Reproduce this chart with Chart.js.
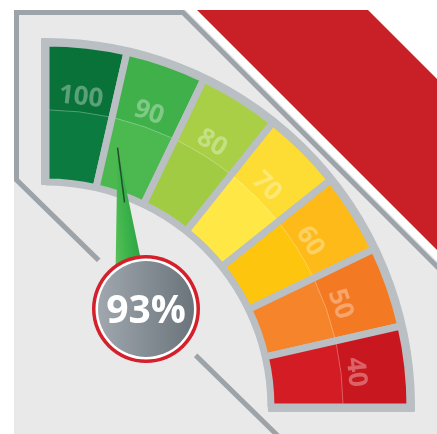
<!DOCTYPE html>
<html>
<head>
<meta charset="utf-8">
<script src="https://cdn.jsdelivr.net/npm/chart.js@4.4.0/dist/chart.umd.min.js"></script>
<style>
  html, body { margin: 0; padding: 0; background: #fff; }
  #gauge { display: block; }
</style>
</head>
<body>
<canvas id="gauge" width="437" height="434"></canvas>
<script>
// gauge bands, from the top of the arc round to the right
const labels = ['100', '90', '80', '70', '60', '50', '40'];
const shares = [1, 1, 1, 1, 1, 1, 1];
const outerColors = ['#097238', '#40b04a', '#a9cf46', '#fddd33', '#fdba18', '#f37a22', '#c9171f'];
const innerColors = ['#0b7b3f', '#4cb850', '#a2cb44', '#ffe846', '#fec50e', '#f5842a', '#d31c24'];
const score = 93;

const GRAY = '#b9bfc3';
const PANEL = '#e9e9ea';
const SPLIT = 0.816;    // where the two tones meet (share of outer radius)
const LABEL_R = 0.862;  // label radius
const TIP_R = 0.739;    // needle tip radius

function gaugeGeom(chart) {
  const c = chart.getDatasetMeta(0).controller;
  const a = chart.chartArea;
  if (!a) return null;
  const g = {
    x: (a.left + a.right) / 2 + c.offsetX,
    y: (a.top + a.bottom) / 2 + c.offsetY,
    outer: c.outerRadius,
    inner: c.innerRadius
  };
  if (!isFinite(g.x) || !isFinite(g.y) || !(g.outer > 0)) return null;
  return g;
}

function badgeCenter(g) {
  return { x: g.x + 100, y: g.y - 98 };
}

function twoTone(ctx) {
  const i = ctx.dataIndex;
  if (i === undefined) return innerColors[0];
  const g = gaugeGeom(ctx.chart);
  if (!g) return innerColors[i];
  const grad = ctx.chart.ctx.createRadialGradient(g.x, g.y, 0, g.x, g.y, g.outer);
  grad.addColorStop(0, innerColors[i]);
  grad.addColorStop(SPLIT, innerColors[i]);
  grad.addColorStop(SPLIT, outerColors[i]);
  grad.addColorStop(1, outerColors[i]);
  return grad;
}

function scoreAngle(chart) {
  const arcs = chart.getDatasetMeta(0).data;
  const vals = labels.map(Number);
  const mid = (el) => (el.startAngle + el.endAngle) / 2;
  for (let i = 0; i < vals.length - 1; i++) {
    if (score <= vals[i] && score >= vals[i + 1]) {
      const t = (vals[i] - score) / (vals[i] - vals[i + 1]);
      return mid(arcs[i]) + t * (mid(arcs[i + 1]) - mid(arcs[i]));
    }
  }
  return mid(arcs[0]);
}

// white page, light panel, red band, frame lines
const backdrop = {
  id: 'backdrop',
  beforeDraw(chart) {
    const ctx = chart.ctx;
    const w = chart.width, h = chart.height;
    ctx.save();
    ctx.fillStyle = '#ffffff';
    ctx.fillRect(0, 0, w, h);

    ctx.fillStyle = PANEL;
    ctx.beginPath();
    ctx.moveTo(14, 10);
    ctx.lineTo(186, 10);
    ctx.lineTo(w, 10 + (w - 186));
    ctx.lineTo(w, h);
    ctx.lineTo(14, h);
    ctx.closePath();
    ctx.fill();

    ctx.fillStyle = '#c91f26';
    ctx.beginPath();
    ctx.moveTo(197, 10);
    ctx.lineTo(368, 10);
    ctx.lineTo(w, 10 + (w - 368));
    ctx.lineTo(w, 10 + (w - 197));
    ctx.closePath();
    ctx.fill();

    ctx.strokeStyle = '#9ca3a9';
    ctx.lineWidth = 5;
    ctx.lineJoin = 'miter';
    ctx.beginPath();
    ctx.moveTo(290, 200 + 0.979 * (290 - 37));
    ctx.lineTo(16.5, 179.9);
    ctx.lineTo(16.5, 12.5);
    ctx.lineTo(183, 12.5);
    ctx.lineTo(w + 10, 12.5 + (w + 10 - 183));
    ctx.stroke();

    const g = gaugeGeom(chart);
    if (g) {
      const b = badgeCenter(g);
      ctx.fillStyle = PANEL;
      ctx.beginPath();
      ctx.arc(b.x, b.y, 68, 0, Math.PI * 2);
      ctx.fill();
    }
    ctx.restore();
  }
};

// gray tray behind the bands
const tray = {
  id: 'tray',
  beforeDatasetsDraw(chart) {
    const g = gaugeGeom(chart);
    if (!g) return;
    const ctx = chart.ctx;
    const off = 4;
    const ro = g.outer + off, ri = g.inner - 2;
    ctx.save();
    ctx.fillStyle = GRAY;
    ctx.beginPath();
    ctx.arc(g.x, g.y, ro, -Math.PI / 2 - Math.asin(off / ro), Math.asin(off / ro));
    ctx.arc(g.x, g.y, ri, Math.asin(off / ri), -Math.PI / 2 - Math.asin(off / ri), true);
    ctx.closePath();
    ctx.fill();
    ctx.strokeStyle = GRAY;
    ctx.lineWidth = 2;
    ctx.lineJoin = 'round';
    ctx.stroke();
    ctx.restore();
  }
};

// seam lines, band labels, needle and score badge
const marks = {
  id: 'marks',
  afterDatasetsDraw(chart) {
    const g = gaugeGeom(chart);
    if (!g) return;
    const ctx = chart.ctx;
    const arcs = chart.getDatasetMeta(0).data;
    ctx.save();

    const rs = g.outer * SPLIT;
    const pad = 3.5 / rs;
    ctx.strokeStyle = 'rgba(255,255,255,0.28)';
    ctx.lineWidth = 1;
    arcs.forEach((el) => {
      ctx.beginPath();
      ctx.arc(g.x, g.y, rs, el.startAngle + pad, el.endAngle - pad);
      ctx.stroke();
    });

    ctx.font = 'bold 26px "Open Sans"';
    ctx.fillStyle = 'rgba(255,255,255,0.33)';
    ctx.textAlign = 'center';
    ctx.textBaseline = 'alphabetic';
    arcs.forEach((el, i) => {
      const m = (el.startAngle + el.endAngle) / 2;
      const r = g.outer * LABEL_R;
      ctx.save();
      ctx.translate(g.x + Math.cos(m) * r, g.y + Math.sin(m) * r);
      ctx.rotate(m + Math.PI / 2);
      ctx.fillText(labels[i], 0, 9.5);
      ctx.restore();
    });

    // needle
    const b = badgeCenter(g);
    const a = scoreAngle(chart);
    const tip = { x: g.x + Math.cos(a) * g.outer * TIP_R, y: g.y + Math.sin(a) * g.outer * TIP_R };
    const base = { x: b.x - 14, y: b.y - 9 };
    const dx = tip.x - base.x, dy = tip.y - base.y;
    const len = Math.hypot(dx, dy);
    const nx = -dy / len, ny = dx / len;
    const hw = 17;
    const L = { x: base.x + nx * hw, y: base.y + ny * hw };
    const R = { x: base.x - nx * hw, y: base.y - ny * hw };
    const ng = ctx.createLinearGradient(L.x, L.y, R.x, R.y);
    ng.addColorStop(0, '#2a9f46');
    ng.addColorStop(0.5, '#3db44b');
    ng.addColorStop(1, '#62c45b');
    ctx.fillStyle = ng;
    ctx.beginPath();
    ctx.moveTo(tip.x, tip.y);
    ctx.lineTo(L.x, L.y);
    ctx.lineTo(R.x, R.y);
    ctx.closePath();
    ctx.fill();
    ctx.strokeStyle = 'rgba(25,55,35,0.8)';
    ctx.lineWidth = 1.5;
    ctx.beginPath();
    ctx.moveTo(tip.x, tip.y);
    ctx.lineTo(tip.x + (base.x + nx * 5 - tip.x) * 0.36, tip.y + (base.y + ny * 5 - tip.y) * 0.36);
    ctx.stroke();

    // badge
    ctx.fillStyle = '#d3202a';
    ctx.beginPath();
    ctx.arc(b.x, b.y, 54, 0, Math.PI * 2);
    ctx.fill();
    ctx.fillStyle = '#ffffff';
    ctx.beginPath();
    ctx.arc(b.x, b.y, 50.5, 0, Math.PI * 2);
    ctx.fill();
    const bg = ctx.createLinearGradient(b.x - 48, b.y, b.x + 48, b.y);
    bg.addColorStop(0, '#a0a7ae');
    bg.addColorStop(1, '#6b747b');
    ctx.fillStyle = bg;
    ctx.beginPath();
    ctx.arc(b.x, b.y, 48, 0, Math.PI * 2);
    ctx.fill();

    ctx.fillStyle = '#ffffff';
    ctx.font = 'bold 39px "Open Sans"';
    ctx.textAlign = 'center';
    ctx.textBaseline = 'alphabetic';
    ctx.fillText(score + '%', b.x, b.y + 14);
    ctx.restore();
  }
};

new Chart(document.getElementById('gauge'), {
  type: 'doughnut',
  data: {
    labels: labels,
    datasets: [{
      data: shares,
      backgroundColor: twoTone,
      borderColor: GRAY,
      borderWidth: 7,
      hoverBorderWidth: 7,
      hoverOffset: 0,
      offset: 0
    }]
  },
  options: {
    responsive: false,
    animation: false,
    events: [],
    rotation: 0,
    circumference: 90,
    cutout: '61.8%',
    layout: { padding: { left: 42.5, top: 39.5, right: 23.5, bottom: 23.5 } },
    plugins: {
      legend: { display: false },
      tooltip: { enabled: false }
    }
  },
  plugins: [backdrop, tray, marks]
});
</script>
</body>
</html>
